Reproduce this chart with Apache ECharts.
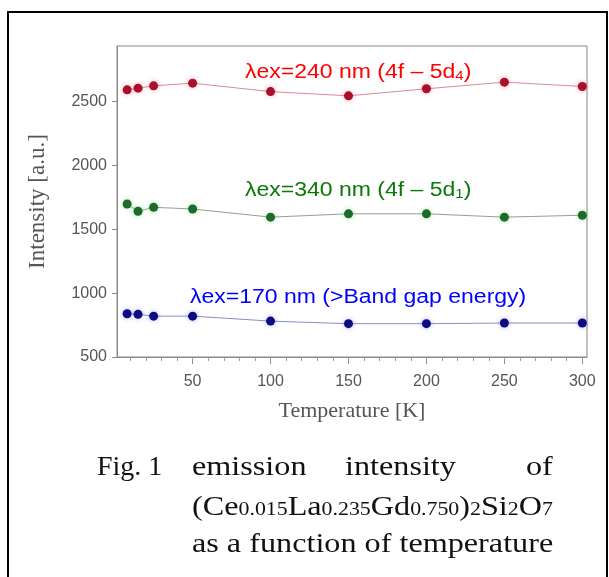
<!DOCTYPE html>
<html>
<head>
<meta charset="utf-8">
<script src="https://cdn.jsdelivr.net/npm/echarts@6/dist/echarts.min.js"></script>
<style>
  html, body { margin: 0; padding: 0; background: #fff; }
  #chart { width: 609px; height: 577px; }
</style>
</head>
<body>
<div id="chart"></div>
<script>
// temperatures [K]
var temps = [8, 15, 25, 50, 100, 150, 200, 250, 300];
// emission intensity [a.u.] per excitation wavelength
var ex240 = [2592, 2605, 2623, 2644, 2578, 2545, 2600, 2652, 2618];
var ex340 = [1698, 1641, 1672, 1659, 1595, 1621, 1621, 1595, 1610];
var ex170 = [839, 834, 820, 820, 781, 761, 761, 766, 766];
// tick values
var yTicks = [500, 1000, 1500, 2000, 2500];
var xMajor = [50, 100, 150, 200, 250, 300];
var xMinor = [10, 20, 30, 40, 50, 60, 70, 80, 90, 100, 110, 120, 130, 140, 150,
  160, 170, 180, 190, 200, 210, 220, 230, 240, 250, 260, 270, 280, 290, 300];

var chart = echarts.init(document.getElementById("chart"));

function pairs(vals) {
  return temps.map(function (t, i) { return [t, vals[i]]; });
}

function makeSeries(name, vals, dot, line, halo) {
  return {
    name: name,
    type: "line",
    xAxisIndex: 0,
    data: pairs(vals),
    symbol: "circle",
    symbolSize: 9,
    lineStyle: { width: 1, color: line },
    itemStyle: { color: dot, shadowBlur: 5, shadowColor: halo },
    emphasis: { disabled: true },
    z: 3
  };
}

var sans = "Liberation Sans";
var serif = "Liberation Serif";
// the original picture is a little wider than tall, texts are stretched
var stretch = 1.15;

function capText(x, y, txt, sx) {
  return {
    type: "text", x: x, y: y, scaleX: sx || stretch,
    style: { text: txt, verticalAlign: "middle", fill: "#111", fontFamily: serif, fontSize: 28 }
  };
}

var option = {
  animation: false,
  grid: {
    left: 117, top: 46, width: 470, height: 311,
    show: true, borderColor: "#8a8a8a", borderWidth: 1
  },
  xAxis: [
    {
      type: "value", min: 1.5, max: 303,
      axisLine: { lineStyle: { color: "#8a8a8a" } },
      axisTick: { show: true, length: 7, customValues: xMajor, lineStyle: { color: "#8a8a8a" } },
      axisLabel: { customValues: xMajor, margin: 17, color: "#555", fontFamily: sans, fontSize: 16 },
      splitLine: { show: false },
      name: "Temperature [K]",
      nameLocation: "middle",
      nameGap: 43,
      nameTextStyle: { color: "#555", fontFamily: serif, fontSize: 22 }
    },
    {
      type: "value", min: 1.5, max: 303, position: "bottom",
      axisLine: { show: false },
      axisTick: { show: true, length: 4, customValues: xMinor, lineStyle: { color: "#9a9a9a" } },
      axisLabel: { show: false },
      splitLine: { show: false }
    }
  ],
  yAxis: {
    type: "value", min: 500, max: 2935,
    axisLine: { show: true, lineStyle: { color: "#8a8a8a" } },
    axisTick: { show: true, length: 5, customValues: yTicks, lineStyle: { color: "#8a8a8a" } },
    axisLabel: {
      customValues: yTicks, margin: 10, color: "#555", fontFamily: sans, fontSize: 16,
      formatter: function (v) { return String(v); }
    },
    splitLine: { show: false },
    name: "Intensity [a.u.]",
    nameLocation: "middle",
    nameRotate: 90,
    nameGap: 68,
    nameTextStyle: { color: "#555", fontFamily: serif, fontSize: 23 }
  },
  graphic: [
    {
      type: "rect", silent: true,
      shape: { x: 8, y: 12, width: 599, height: 600 },
      style: { fill: "none", stroke: "#000", lineWidth: 2 }
    },
    {
      type: "text", x: 245, y: 72, scaleX: stretch,
      style: {
        text: "{a|λex=240 nm (4f – 5d}{s|4}{a|)}",
        verticalAlign: "middle",
        rich: {
          a: { fill: "#ff0000", fontFamily: sans, fontSize: 20 },
          s: { fill: "#ff0000", fontFamily: sans, fontSize: 13, verticalAlign: "bottom", padding: [8, 0, 0, 0] }
        }
      }
    },
    {
      type: "text", x: 245, y: 190, scaleX: stretch,
      style: {
        text: "{a|λex=340 nm (4f – 5d}{s|1}{a|)}",
        verticalAlign: "middle",
        rich: {
          a: { fill: "#0a780a", fontFamily: sans, fontSize: 20 },
          s: { fill: "#0a780a", fontFamily: sans, fontSize: 13, verticalAlign: "bottom", padding: [8, 0, 0, 0] }
        }
      }
    },
    {
      type: "text", x: 190, y: 297, scaleX: stretch,
      style: {
        text: "λex=170 nm (>Band gap energy)",
        verticalAlign: "middle",
        fill: "#0000ff", fontFamily: sans, fontSize: 20
      }
    },
    // caption
    capText(97, 468, "Fig. 1", 1),
    capText(192, 468, "emission"),
    capText(345, 468, "intensity"),
    capText(526, 468, "of"),
    {
      type: "text", x: 192, y: 508, scaleX: stretch,
      style: {
        text: "{a|(Ce}{s|0.015}{a|La}{s|0.235}{a|Gd}{s|0.750}{a|)}{s|2}{a|Si}{s|2}{a|O}{s|7}",
        verticalAlign: "middle",
        rich: {
          a: { fill: "#111", fontFamily: serif, fontSize: 28 },
          s: { fill: "#111", fontFamily: serif, fontSize: 19, verticalAlign: "bottom", padding: [0, 0, 2, 0] }
        }
      }
    },
    capText(192, 545, "as a function of temperature")
  ],
  series: [
    makeSeries("240", ex240, "#a8102c", "#d98a95", "rgba(255,60,80,0.45)"),
    makeSeries("340", ex340, "#1d6a2a", "#8fa38f", "rgba(60,200,60,0.45)"),
    makeSeries("170", ex170, "#0c0c80", "#8a8ad0", "rgba(60,60,255,0.4)")
  ]
};

chart.setOption(option);
</script>
</body>
</html>
